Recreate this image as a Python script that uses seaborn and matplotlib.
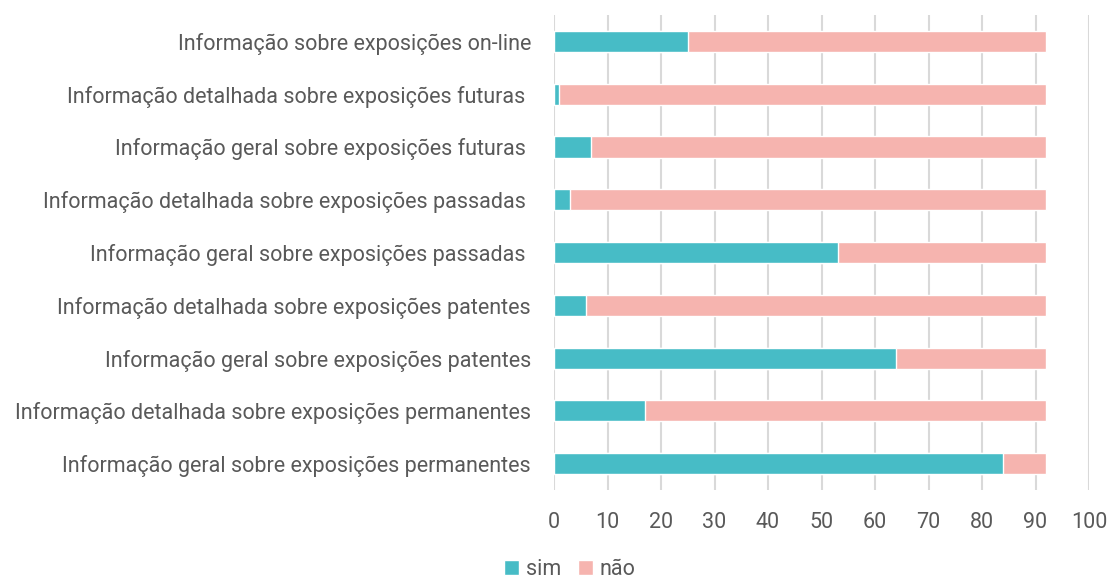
import matplotlib
matplotlib.use("Agg")
import matplotlib.pyplot as plt
from matplotlib.patches import Patch
import numpy as np
import pandas as pd
import seaborn as sns

# Categories (top to bottom) and counts per answer
categorias = [
    "Informação sobre exposições on-line",
    "Informação detalhada sobre exposições futuras ",
    "Informação geral sobre exposições futuras ",
    "Informação detalhada sobre exposições passadas ",
    "Informação geral sobre exposições passadas ",
    "Informação detalhada sobre exposições patentes",
    "Informação geral sobre exposições patentes",
    "Informação detalhada sobre exposições permanentes",
    "Informação geral sobre exposições permanentes",
]
sim = [25, 1, 7, 3, 53, 6, 64, 17, 84]
nao = [67, 91, 85, 89, 39, 86, 28, 75, 8]
x_ticks = [0, 10, 20, 30, 40, 50, 60, 70, 80, 90, 100]

COR_SIM = "#47BCC6"
COR_NAO = "#F6B4AF"
COR_TEXTO = "#595959"
COR_GRADE = "#D9D9D9"
FS = 15.5

sns.set_theme(style="white")
plt.rcParams["font.family"] = ["Roboto", "DejaVu Sans"]

df = pd.DataFrame({
    "categoria": categorias,
    "sim": sim,
    "nao": nao,
})
df["total"] = df["sim"] + df["nao"]

fig = plt.figure(figsize=(11.12, 5.82), dpi=100)
ax = fig.add_axes([554 / 1112, 1 - 490 / 582, (1089 - 554) / 1112, (490 - 15) / 582])

# Stacked bars: full length (não on the right) then sim from zero
sns.barplot(data=df, x="total", y="categoria", color=COR_NAO, width=0.4,
            saturation=1, ax=ax, zorder=2)
sns.barplot(data=df, x="sim", y="categoria", color=COR_SIM, width=0.4,
            saturation=1, ax=ax, zorder=3)

ax.set_xlim(0, 100)
ax.set_ylim(len(categorias) - 0.5, -0.5)
ax.set_xticks(x_ticks)
ax.set_xlabel("")
ax.set_ylabel("")
for xv in x_ticks:
    ax.axvline(xv, color=COR_GRADE, lw=1.5, zorder=1)
for s in ax.spines.values():
    s.set_visible(False)
ax.tick_params(axis="both", length=0, colors=COR_TEXTO, labelsize=FS)
ax.tick_params(axis="y", pad=16.5)
ax.tick_params(axis="x", pad=16)

handles = [Patch(facecolor=COR_SIM, label="sim"), Patch(facecolor=COR_NAO, label="não")]
fig.legend(handles=handles, loc="lower center", bbox_to_anchor=(570 / 1112, -0.03),
           ncol=2, frameon=False, fontsize=FS, handlelength=0.7, handleheight=0.7,
           handletextpad=0.3, columnspacing=0.8, labelcolor=COR_TEXTO)

fig.savefig("out.png", dpi=100)
